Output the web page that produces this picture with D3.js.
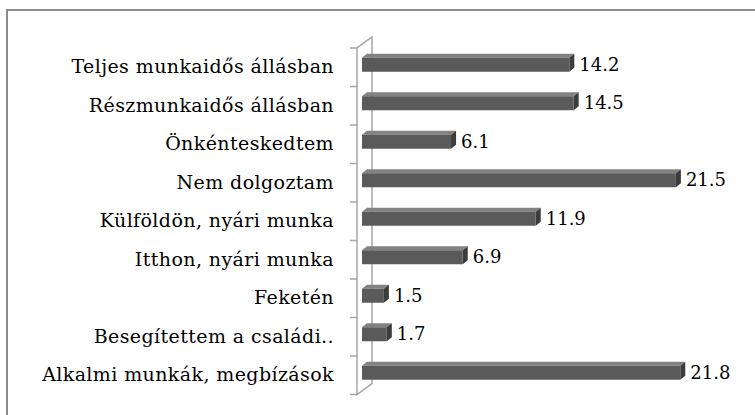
<!DOCTYPE html>
<html>
<head>
<meta charset="utf-8">
<script src="https://cdn.jsdelivr.net/npm/d3@7"></script>
<style>
  body { margin: 0; background: #fff; }
  svg { display: block; }
  text { font-family: 'DejaVu Serif', serif; }
</style>
</head>
<body>
<div class="chart"></div>
<script>
const categories = [
  'Teljes munkaidős állásban',
  'Részmunkaidős állásban',
  'Önkénteskedtem',
  'Nem dolgoztam',
  'Külföldön, nyári munka',
  'Itthon, nyári munka',
  'Feketén',
  'Besegítettem a családi..',
  'Alkalmi munkák, megbízások'
]
const values = [14.2, 14.5, 6.1, 21.5, 11.9, 6.9, 1.5, 1.7, 21.8]

const W = 755
const H = 415
const FRONT = '#5a5a5a'
const TOP = '#828282'
const SIDE = '#3c3c3c'
const WALL = '#a6a6a6'

// 3d offsets
const depth = { dx: 15, dy: -11 }
const barDepth = { dx: 5, dy: -4 }

const svg = d3.select('.chart').append('svg')
  .attr('width', W)
  .attr('height', H)

// outer frame (runs off right/bottom edge)
svg.append('rect')
  .attr('x', 7)
  .attr('y', 10)
  .attr('width', W + 20)
  .attr('height', H + 20)
  .attr('fill', 'none')
  .attr('stroke', '#8a8a8a')
  .attr('stroke-width', 2)

const y = d3.scaleBand()
  .domain(categories)
  .range([48, 394.5])
  .paddingInner(0)

const x = d3.scaleLinear()
  .domain([0, 25])
  .range([362, 727])

const axisX = 357
const yTop = y.range()[0]
const yBot = y.range()[1]

// the wall / axis
const wall = svg.append('g')
  .attr('fill', 'none')
  .attr('stroke', WALL)
  .attr('stroke-width', 1.5)
wall.append('path')
  .attr('d', `M${axisX},${yTop}L${axisX},${yBot}L${axisX + depth.dx},${yBot + depth.dy}L${axisX + depth.dx},${yTop + depth.dy}Z`)

const ticks = d3.range(categories.length + 1).map(i => yTop + i * y.step())
wall.selectAll('line.tick')
  .data(ticks)
  .join('line')
  .attr('class', 'tick')
  .attr('x1', axisX - 7)
  .attr('x2', axisX)
  .attr('y1', d => d)
  .attr('y2', d => d)

// bars
const barH = 14
const bars = svg.append('g')
  .selectAll('g')
  .data(values)
  .join('g')

const frontY = (d, i) => y(categories[i]) + y.bandwidth() / 2 - 2.5 - barH / 2

bars.append('path')
  .attr('fill', TOP)
  .attr('d', (d, i) => {
    const y0 = frontY(d, i)
    const x0 = x(0)
    const x1 = x(d)
    return `M${x0},${y0}L${x1},${y0}L${x1 + barDepth.dx},${y0 + barDepth.dy}L${x0 + barDepth.dx},${y0 + barDepth.dy}Z`
  })

bars.append('path')
  .attr('fill', SIDE)
  .attr('d', (d, i) => {
    const y0 = frontY(d, i)
    const x1 = x(d)
    return `M${x1},${y0}L${x1 + barDepth.dx},${y0 + barDepth.dy}L${x1 + barDepth.dx},${y0 + barH + barDepth.dy}L${x1},${y0 + barH}Z`
  })

bars.append('rect')
  .attr('fill', FRONT)
  .attr('x', x(0))
  .attr('y', (d, i) => frontY(d, i))
  .attr('width', d => x(d) - x(0))
  .attr('height', barH)

// value labels
bars.append('text')
  .attr('x', d => x(d) + barDepth.dx + 5)
  .attr('y', (d, i) => frontY(d, i) + barH / 2 + 1)
  .attr('dominant-baseline', 'middle')
  .attr('font-size', 18)
  .attr('fill', '#000')
  .text(d => d.toFixed(1))

// category labels
svg.append('g')
  .selectAll('text')
  .data(categories)
  .join('text')
  .attr('x', 334)
  .attr('y', d => y(d) + y.bandwidth() / 2 + 1)
  .attr('text-anchor', 'end')
  .attr('dominant-baseline', 'middle')
  .attr('font-size', 19)
  .attr('letter-spacing', 0.4)
  .attr('fill', '#000')
  .text(d => d)
</script>
</body>
</html>
